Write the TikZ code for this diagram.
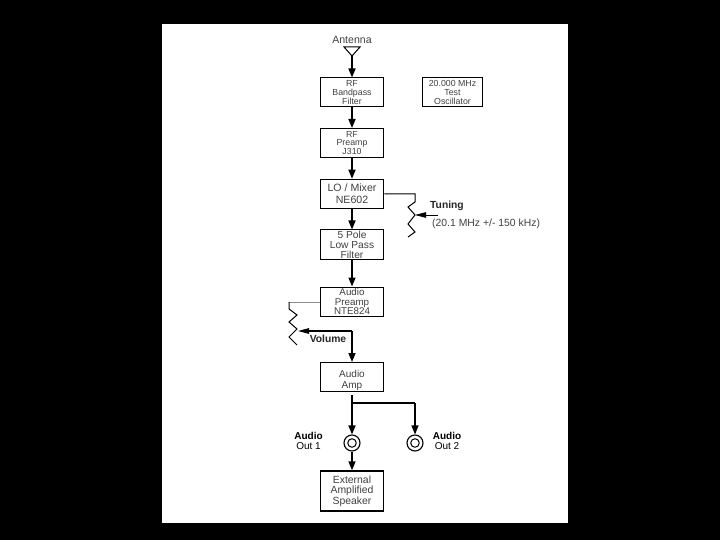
\documentclass[tikz,border=0pt]{standalone}
\usepackage{fontspec}
\setmainfont{Liberation Sans}
\usetikzlibrary{arrows.meta}
\tikzset{
  blk/.style={draw=black,line width=#1,fill=white,minimum width=63.5pt,minimum height=29pt,inner sep=0pt,align=center,font=\fontsize{8.8pt}{8.8pt}\selectfont,text=black!75},
  blk/.default=1pt,
  arr/.style={line width=1.6pt,-{Triangle[length=9pt,width=7pt]}},
  wire/.style={line width=1pt},
  lbl/.style={align=center,inner sep=0pt,font=\fontsize{10pt}{10.3pt}\selectfont},
  jack/.style={circle,draw=black,line width=1.1pt,minimum size=16pt,inner sep=0pt,fill=white},
  jackin/.style={circle,draw=black,line width=1pt,minimum size=8.5pt,inner sep=0pt}
}
\begin{document}
\begin{tikzpicture}[x=1pt,y=-1pt]
\useasboundingbox (0,0) rectangle (720,540);
\fill[black] (0,0) rectangle (720,540);
\fill[white] (162,24) rectangle (568,523);

\node[lbl,text=black!75,font=\fontsize{10.6pt}{12pt}\selectfont] (ant) at (352,40) {Antenna};
\coordinate (a1) at (344,47);
\coordinate (a2) at (360,47);
\coordinate (a3) at (352,56);
\draw[wire] (a1) -- (a2) -- (a3) -- cycle;

\node[blk] (bpf) at (352,92.5) {RF\\Bandpass\\Filter};
\node[blk] (osc) at (452.5,92.5) [minimum width=60pt] {20.000 MHz\\Test\\Oscillator};
\node[blk] (pre) at (352,143) {RF\\Preamp\\J310};
\node[blk] (mix) at (352,193.7) [font=\fontsize{10.6pt}{11.3pt}\selectfont] {LO / Mixer\\NE602};
\node[blk] (lpf) at (352,244.5) [font=\fontsize{10.2pt}{10pt}\selectfont] {5 Pole\\Low Pass\\Filter};
\node[blk] (apre) at (352,301.5) [font=\fontsize{9.8pt}{9.6pt}\selectfont] {Audio\\Preamp\\NTE824};
\node[blk] (amp) at (352,377) {};
\node[lbl,text=black!75,font=\fontsize{10pt}{11pt}\selectfont] (ampt) at (352,380.5) {Audio\\Amp};
\node[blk=1.4pt] (spk) at (352,491) [minimum height=40pt,font=\fontsize{10.4pt}{10.4pt}\selectfont] {External\\Amplified\\Speaker};

\draw[arr] (a3) -- (bpf.north);
\draw[arr] (bpf) -- (pre);
\draw[arr] (pre) -- (mix);
\draw[arr] (mix) -- (lpf);
\draw[arr] (lpf) -- (apre);

% tuning pot
\coordinate (t0) at (415,194);
\coordinate (t1) at (415,202);
\coordinate (tw) at (415,215);
\coordinate (te) at (438,215);
\draw[wire] (mix.east |- t0) -- (t0) -- (t1) -- (408,207) -- (415,215) -- (408,224) -- (415,232) -- (408,237);
\draw[line width=.8pt,-{Triangle[length=11pt,width=5.5pt]}] (te) -- (tw);
\node[lbl,anchor=west,font=\fontsize{10.3pt}{10pt}\bfseries\selectfont,text=black!85] (tun) at (430,206) {Tuning};
\node[lbl,anchor=west,text=black!75,font=\fontsize{10.4pt}{10.4pt}\selectfont] (trng) at (432,224) {(20.1 MHz +/- 150 kHz)};

% volume pot
\coordinate (v0) at (289,302);
\coordinate (vw) at (298,331);
\coordinate (vb) at (352,331);
\draw[line width=.8pt,black!45] (apre.west |- v0) -- (v0);
\draw[wire] (v0) -- (289,309) -- (297,315) -- (289,322) -- (297,329) -- (289,337) -- (297,345);
\draw[line width=1.2pt,-{Triangle[length=11pt,width=5.5pt]}] (vb) -- (vw);
\draw[arr] (vb) -- (amp.north);
\node[lbl,font=\fontsize{10.3pt}{10pt}\bfseries\selectfont,text=black!85] (vol) at (328,339) {Volume};

% outputs
\node[jack] (j1) at (352,443) {};
\node[jack] (j2) at (415,443) {};
\node[jackin] (j1i) at (352,443) {};
\node[jackin] (j2i) at (415,443) {};
\coordinate (br) at (352,403);
\coordinate (bq) at (415,403);
\coordinate (as) at (352,395);
\draw[line width=1.6pt] (as) -- (br);
\draw[arr] (br) -- (j1.north);
\draw[line width=1.1pt] (br) -- (bq);
\draw[arr,line width=1.2pt] (bq) -- (j2.north);
\draw[arr] (j1.south) -- (spk.north);
\node[lbl] (o1) at (308.5,441) {\textbf{Audio}\\Out 1};
\node[lbl] (o2) at (447,441) {\textbf{Audio}\\Out 2};
\end{tikzpicture}
\end{document}
